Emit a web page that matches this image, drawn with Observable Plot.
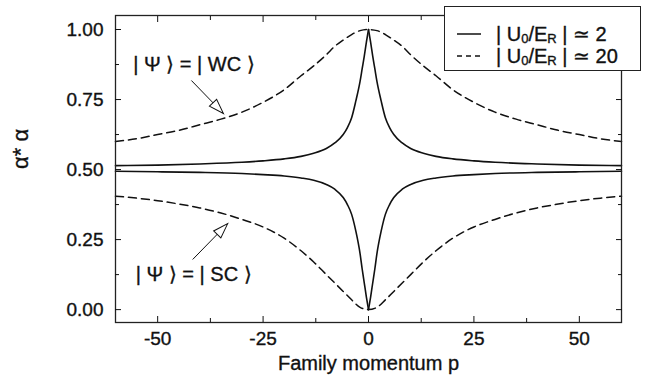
<!DOCTYPE html>
<html>
<head>
<meta charset="utf-8">
<script src="https://cdn.jsdelivr.net/npm/d3@7"></script>
<script src="https://cdn.jsdelivr.net/npm/@observablehq/plot@0.6"></script>
<style>
  body { margin: 0; background: #fff; }
  #chart { position: relative; width: 645px; height: 383px; font-family: "Liberation Sans", Arial, sans-serif; color: #111; }
  #chart svg text { stroke: #111; stroke-width: 0.35px; }
  #legend { position: absolute; left: 444px; top: 6px; width: 197px; height: 65px; box-sizing: border-box;
            border: 1.3px solid #222; background: #fff; }
  #legend .row { position: absolute; left: 0; height: 22px; display: flex; align-items: center; }
  #legend svg { margin-left: 12px; margin-right: 15px; }
  #legend span { font-size: 20px; white-space: pre; -webkit-text-stroke: 0.35px #111; }
  #legend sub { font-size: 13px; vertical-align: -2px; }
</style>
</head>
<body>
<div id="chart"></div>
<script>
// Family momentum p for the |U0/ER| ≃ 2 curves (dense near the cusp at p = 0)
const pSolid = [-60, -50, -40, -30, -25, -20, -16, -13, -10, -8, -6, -5, -4, -3, -2, -1.5, -1, -0.5,
                0, 0.5, 1, 1.5, 2, 3, 4, 5, 6, 8, 10, 13, 16, 20, 25, 30, 40, 50, 60];
// α*α for |Ψ> = |WC> and |Ψ> = |SC>, |U0/ER| ≃ 2
const solidWC = [0.514, 0.516, 0.520, 0.526, 0.531, 0.538, 0.547, 0.558, 0.575, 0.595, 0.625, 0.650, 0.685, 0.745, 0.815, 0.860, 0.905, 0.955,
                 1.000, 0.955, 0.905, 0.860, 0.815, 0.745, 0.685, 0.650, 0.625, 0.595, 0.575, 0.558, 0.547, 0.538, 0.531, 0.526, 0.520, 0.516, 0.514];
const solidSC = [0.494, 0.492, 0.490, 0.486, 0.482, 0.477, 0.470, 0.462, 0.447, 0.430, 0.400, 0.375, 0.340, 0.280, 0.200, 0.145, 0.095, 0.045,
                 0.000, 0.045, 0.095, 0.145, 0.200, 0.280, 0.340, 0.375, 0.400, 0.430, 0.447, 0.462, 0.470, 0.477, 0.482, 0.486, 0.490, 0.492, 0.494];

// Family momentum p for the |U0/ER| ≃ 20 curves
const pDashed = [-60, -55, -50, -45, -40, -35, -30, -25, -20, -16, -13, -10, -8, -6, -4, -2,
                 0, 2, 4, 6, 8, 10, 13, 16, 20, 25, 30, 35, 40, 45, 50, 55, 60];
const dashedWC = [0.600, 0.610, 0.625, 0.640, 0.660, 0.680, 0.705, 0.740, 0.785, 0.835, 0.870, 0.910, 0.940, 0.962, 0.982, 0.996,
                  1.000, 0.996, 0.982, 0.962, 0.940, 0.910, 0.870, 0.835, 0.785, 0.740, 0.705, 0.680, 0.660, 0.640, 0.625, 0.610, 0.600];
const dashedSC = [0.405, 0.398, 0.389, 0.377, 0.363, 0.345, 0.322, 0.295, 0.255, 0.210, 0.170, 0.125, 0.095, 0.065, 0.035, 0.008,
                  0.000, 0.008, 0.035, 0.065, 0.095, 0.125, 0.170, 0.210, 0.255, 0.295, 0.322, 0.345, 0.363, 0.377, 0.389, 0.398, 0.405];

// Axis ticks
const xMajor = [-50, -25, 0, 25, 50];
const xMinor = [-37.5, -12.5, 12.5, 37.5];
const yMajor = [0, 0.25, 0.5, 0.75, 1];
const yMinor = [0.125, 0.375, 0.625, 0.875];

// Labels
const xTitle = "Family momentum p";
const yTitle = "α* α";
const legendValues = ["2", "20"];
const legendDash = [null, "5,4"];

// State annotations (text anchor and pointer, in data units)
const notes = [
  {label: "| Ψ ⟩ = | WC ⟩", p: -55.8, v: 0.876},
  {label: "| Ψ ⟩ = | SC ⟩", p: -55.2, v: 0.126}
];
const pointers = [
  {p1: -42.0, v1: 0.818, p2: -34.4, v2: 0.700, angle: 136},
  {p1: -41.7, v1: 0.179, p2: -33.4, v2: 0.307, angle: 44}
];

const rows = (ps, vs, s) => ps.map((p, i) => ({p, v: vs[i], s}));
const solid = [...rows(pSolid, solidWC, "wc"), ...rows(pSolid, solidSC, "sc")];
const dashed = [...rows(pDashed, dashedWC, "wc"), ...rows(pDashed, dashedSC, "sc")];

// Open triangular arrowhead, tip at the origin, pointing up before rotation
const openHead = {
  draw(ctx) {
    ctx.moveTo(0, 0);
    ctx.lineTo(5, 15);
    ctx.lineTo(-5, 15);
    ctx.closePath();
  }
};

const ink = "#111";
const blank = () => "";

const chart = Plot.plot({
  width: 645,
  height: 383,
  marginLeft: 115,
  marginRight: 24,
  marginTop: 15,
  marginBottom: 61,
  style: {fontFamily: '"Liberation Sans", Arial, sans-serif', fontSize: "19px", color: ink, background: "#fff"},
  x: {domain: [-60, 60]},
  y: {domain: [-0.046, 1.05]},
  marks: [
    // cusped curves: each half drawn separately so p = 0 stays sharp
    Plot.line(solid.filter(d => d.p <= 0), {x: "p", y: "v", z: "s", curve: "monotone-x", stroke: ink, strokeWidth: 1.6}),
    Plot.line(solid.filter(d => d.p >= 0), {x: "p", y: "v", z: "s", curve: "monotone-x", stroke: ink, strokeWidth: 1.6}),
    Plot.line(dashed, {x: "p", y: "v", z: "s", curve: "monotone-x", stroke: ink, strokeWidth: 1.5, strokeDasharray: "8,5"}),

    Plot.frame({stroke: "#222", strokeWidth: 1.3}),
    Plot.axisX(xMajor, {anchor: "bottom", tickSize: -6, tickPadding: 15, tickFormat: d => String(d), label: null}),
    Plot.axisX(xMinor, {anchor: "bottom", tickSize: -4, tickFormat: blank, label: null}),
    Plot.axisX(xMajor, {anchor: "top", tickSize: -6, tickFormat: blank, label: null}),
    Plot.axisX(xMinor, {anchor: "top", tickSize: -4, tickFormat: blank, label: null}),
    Plot.axisY(yMajor, {anchor: "left", tickSize: -6, tickPadding: 18, tickFormat: d3.format(".2f"), label: null}),
    Plot.axisY(yMinor, {anchor: "left", tickSize: -4, tickFormat: blank, label: null}),
    Plot.axisY(yMajor, {anchor: "right", tickSize: -6, tickFormat: blank, label: null}),
    Plot.axisY(yMinor, {anchor: "right", tickSize: -4, tickFormat: blank, label: null}),

    Plot.text([xTitle], {frameAnchor: "bottom", dy: 47, fontSize: 20, fill: ink}),
    Plot.text([yTitle], {frameAnchor: "left", dx: -95, rotate: -90, fontSize: 22, fill: ink}),

    Plot.text(notes, {x: "p", y: "v", text: "label", textAnchor: "start", fontSize: 20, fill: ink}),
    Plot.link(pointers, {x1: "p1", y1: "v1", x2: "p2", y2: "v2", stroke: ink, strokeWidth: 1}),
    Plot.dot(pointers, {x: "p2", y: "v2", symbol: openHead, rotate: "angle", fill: "#fff", stroke: ink, strokeWidth: 1})
  ]
});

const host = document.getElementById("chart");
host.appendChild(chart);

// Legend box overlapping the upper-right corner of the frame
const legend = document.createElement("div");
legend.id = "legend";
legendValues.forEach((val, i) => {
  const row = document.createElement("div");
  row.className = "row";
  row.style.top = (i === 0 ? 16 : 38) + "px";
  const dash = legendDash[i] ? ` stroke-dasharray="${legendDash[i]}"` : "";
  row.innerHTML = `<svg width="24" height="4"><line x1="0" y1="2" x2="24" y2="2" stroke="${ink}" stroke-width="1.5"${dash}/></svg>` +
                  `<span>| U<sub>0</sub>/E<sub>R</sub> | ≃ ${val}</span>`;
  legend.appendChild(row);
});
host.appendChild(legend);
</script>
</body>
</html>
